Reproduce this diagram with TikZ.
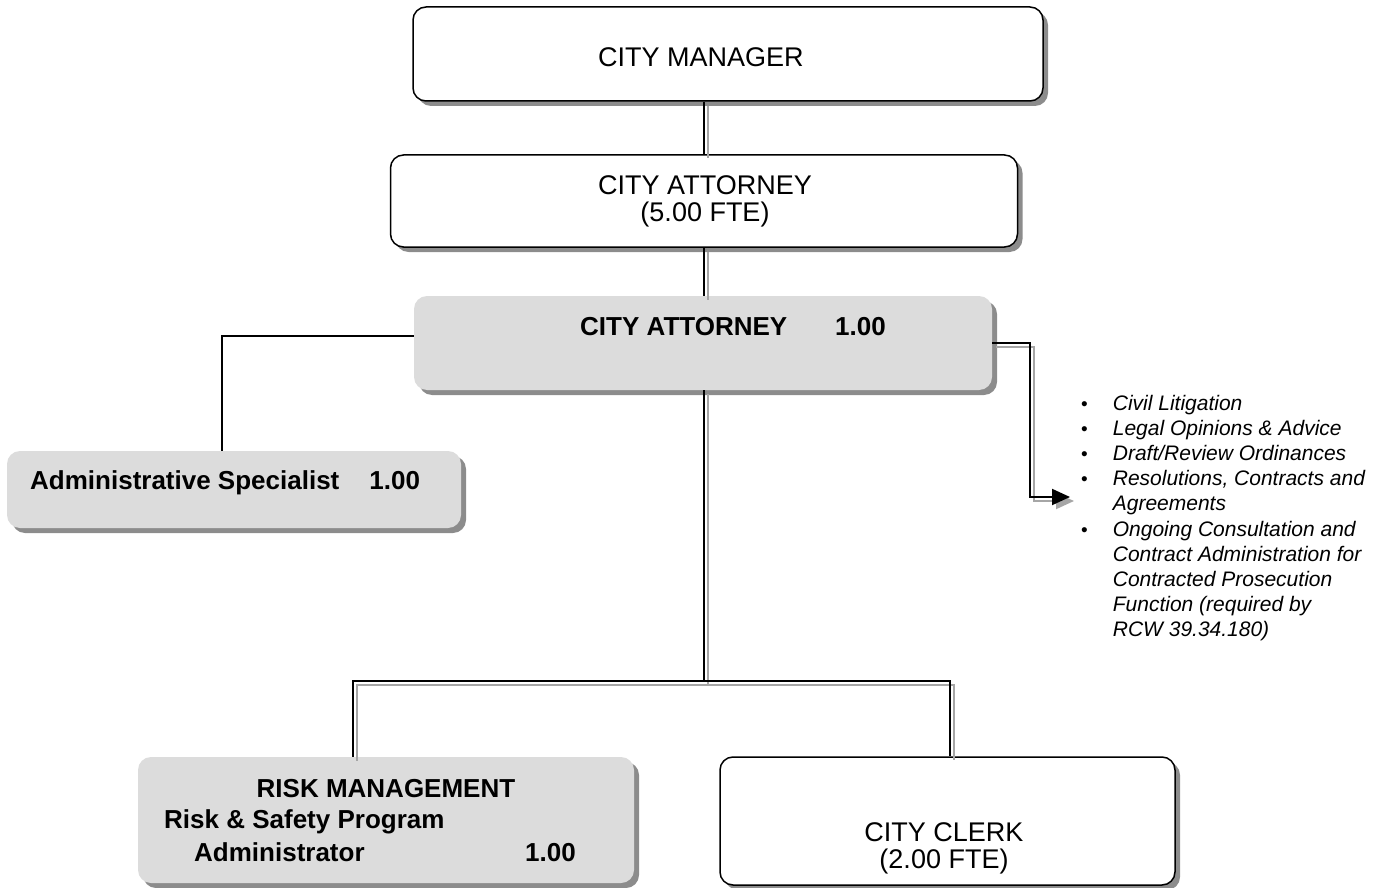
\documentclass[tikz,border=0pt]{standalone}
\usepackage{fontspec}
\setmainfont{Liberation Sans}
\usetikzlibrary{arrows.meta,shadows}
\definecolor{panelgray}{HTML}{DCDCDC}
\definecolor{shadowgray}{HTML}{8C8C8C}
\definecolor{wireshade}{HTML}{A6A6A6}
\newcommand{\regtext}{\fontsize{27}{27}\selectfont}
\newcommand{\boldtext}{\fontsize{26}{32}\selectfont\bfseries}
\newcommand{\listtext}{\fontsize{21}{25.2}\selectfont\itshape}
\newcommand{\dutymark}{{\fontsize{19}{19}\selectfont\upshape •}}
\begin{document}
\begin{tikzpicture}[x=1pt,y=-1pt,
  casted/.style={drop shadow={shadow xshift=5pt,shadow yshift=-5pt,fill=shadowgray,opacity=1}},
  whitebox/.style={casted, draw=black, line width=1.5pt, fill=white, rounded corners=13pt, inner sep=0pt},
  graybox/.style={casted, fill=panelgray, rounded corners=13pt, inner sep=0pt},
  txt/.style={inner sep=0pt},
  wire/.style={draw=black, line width=2pt, line join=miter,
    preaction={draw=wireshade, line width=2pt, transform canvas={shift={(4pt,-4pt)}}}},
  plainwire/.style={draw=black, line width=1.6pt, line join=miter},
]
\useasboundingbox (0,0) rectangle (1385,888);

% boxes
\node[whitebox, minimum width=630pt, minimum height=94pt] (cm) at (728,54) {};
\node[whitebox, minimum width=627pt, minimum height=92pt] (ca) at (704,201) {};
\node[graybox, minimum width=578pt, minimum height=94pt] (gca) at (703,343) {};
\node[graybox, minimum width=454pt, minimum height=77pt] (adm) at (234,489.5) {};
\node[graybox, minimum width=496pt, minimum height=126pt] (risk) at (386,820) {};
\node[whitebox, minimum width=455pt, minimum height=128pt] (clerk) at (947.5,821) {};

% box texts
\node[txt, font=\regtext] (cmT) at (701,57) {CITY MANAGER};
\node[txt, font=\regtext, align=center] (caT) at (705,201) {CITY ATTORNEY\\(5.00 FTE)};
\node[txt, font=\boldtext, anchor=base west] (gcaT) at (580,335) {CITY ATTORNEY\hspace{48pt}1.00};
\node[txt, font=\boldtext, anchor=base west] (admT) at (30,489) {Administrative Specialist\hspace{30pt}1.00};
\node[txt, font=\boldtext, anchor=base] (riskT) at (386,797) {RISK MANAGEMENT};
\node[txt, font=\boldtext, anchor=base west] (riskA) at (164,828) {Risk \& Safety Program};
\node[txt, font=\boldtext, anchor=base west] (riskB) at (194,861) {Administrator};
\node[txt, font=\boldtext, anchor=base east] (riskC) at (576,861) {1.00};
\node[txt, font=\regtext, align=center] (clerkT) at (944,848) {CITY CLERK\\(2.00 FTE)};

% duties list
\node[txt, font=\listtext, anchor=base west] (duties) at (1081,410) {%
\begin{tabular}[t]{@{}l@{\hspace{25pt}}l@{}}
\dutymark & Civil Litigation\\
\dutymark & Legal Opinions \& Advice\\
\dutymark & Draft/Review Ordinances\\
\dutymark & Resolutions, Contracts and\\
          & Agreements\\
\dutymark & Ongoing Consultation and\\
          & Contract Administration for\\
          & Contracted Prosecution\\
          & Function (required by\\
          & RCW 39.34.180)
\end{tabular}};

% bend points
\coordinate (busL) at (353,681);
\coordinate (busR) at (950,681);
\coordinate (sideBend) at (222,336);
\coordinate (dutyBend) at (1030,497);
\coordinate (dutyTip) at (1070,497);

% connectors
\draw[wire] (ca.north |- cm.south) -- (ca.north);
\draw[wire] (ca.south) -- (ca.south |- gca.north);
\draw[wire] (gca.south -| ca.south) -- (busL -| ca.south);
\draw[wire] (busL |- risk.north) -- (busL) -- (busR) -- (busR |- clerk.north);
\draw[plainwire] (gca.west |- sideBend) -- (sideBend) -- (sideBend |- adm.north);
\draw[wire, -{Triangle[length=18pt,width=16pt]}] (gca.east) -| (dutyBend) -- (dutyTip);
\end{tikzpicture}
\end{document}
